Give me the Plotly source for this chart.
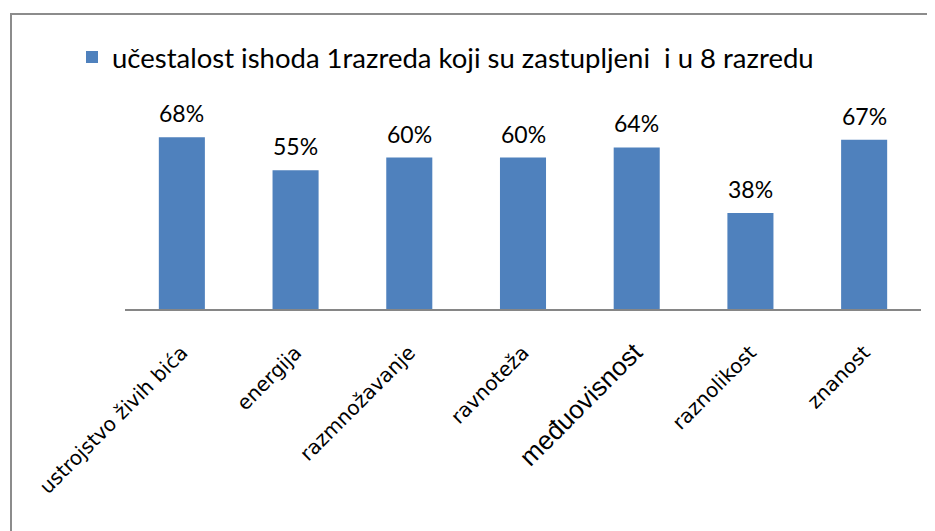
import plotly.graph_objects as go

categories = ["ustrojstvo živih bića", "energija", "razmnožavanje", "ravnoteža",
              "međuovisnost", "raznolikost", "znanost"]
values = [0.68, 0.55, 0.60, 0.60, 0.64, 0.38, 0.67]
value_labels = ["68%", "55%", "60%", "60%", "64%", "38%", "67%"]
series_name = "učestalost ishoda 1razreda koji su zastupljeni&nbsp; i u 8 razredu"

tick_text = [
    c if c != "međuovisnost"
    else "<span style='font-family:Liberation Sans, Arial;font-size:26px'>%s</span>" % c
    for c in categories
]

# page body has an 8px margin; work in screen coordinates and convert
OFF = 8
W, H = 935 - OFF, 531 - OFF
L, T = 125 - OFF, 107 - OFF
R = W - (921 - OFF)
B = H - (309 - OFF)
pw, ph = W - L - R, H - T - B

def px_x(sx):
    return (sx - OFF - L) / pw

def px_y(sy):
    return (H - B - (sy - OFF)) / ph

fig = go.Figure()
fig.add_trace(go.Bar(
    x=categories, y=values, name=series_name,
    marker=dict(color="#4F81BD", line=dict(width=0)),
    width=0.405,
))

for c, v, t in zip(categories, values, value_labels):
    fig.add_annotation(x=c, y=v, text=t, showarrow=False, yanchor="middle",
                       yshift=24, font=dict(family="Lato, Open Sans", size=23, color="#000000"))

# chart-area border (only top and left edges are visible in the frame)
fig.add_shape(type="line", xref="paper", yref="paper",
              x0=px_x(10), x1=px_x(960), y0=px_y(14), y1=px_y(14),
              line=dict(color="#8C8C8C", width=2), layer="below")
fig.add_shape(type="line", xref="paper", yref="paper",
              x0=px_x(11), x1=px_x(11), y0=px_y(13), y1=px_y(560),
              line=dict(color="#8C8C8C", width=2), layer="below")

fig.update_layout(
    width=W, height=H,
    margin=dict(l=L, r=R, t=T, b=B, autoexpand=False),
    paper_bgcolor="white", plot_bgcolor="white",
    showlegend=True,
    legend=dict(x=px_x(72), y=px_y(57), xanchor="left", yanchor="middle",
                orientation="h", font=dict(family="Lato, Open Sans", size=27.5, color="#000000"),
                itemwidth=30, bgcolor="rgba(0,0,0,0)"),
    xaxis=dict(
        tickmode="array", tickvals=categories, ticktext=tick_text,
        tickangle=-45, showline=True, linecolor="#868686", linewidth=2,
        ticks="", showgrid=False, zeroline=False, ticklabelstandoff=22,
        tickfont=dict(family="DejaVu Sans, Verdana", size=20, color="#000000"),
        range=[-0.5, 6.5],
    ),
    yaxis=dict(range=[0, 0.8], visible=False, showgrid=False, zeroline=False),
)

fig.write_html(
    "out.html",
    config={"displayModeBar": False},
    post_script="document.documentElement.style.overflow='hidden';document.body.style.overflow='hidden';",
)
